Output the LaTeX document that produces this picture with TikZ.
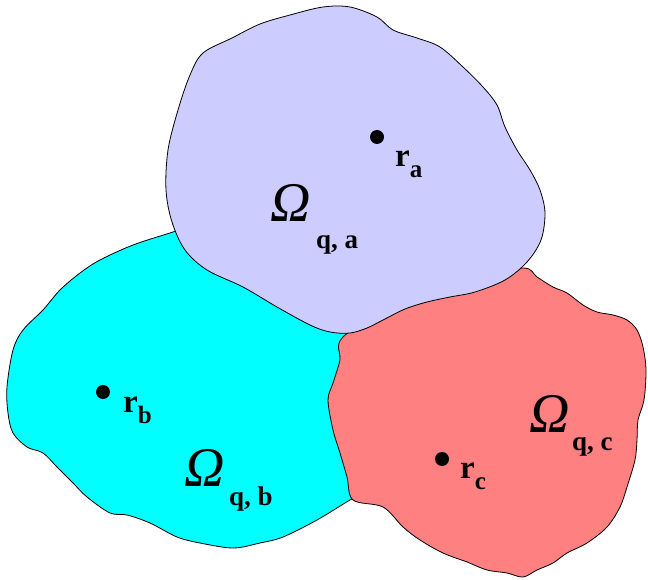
\documentclass[tikz,border=0pt]{standalone}
\usepackage{fontspec}
\setmainfont{Liberation Serif}
\definecolor{regA}{HTML}{CCCCFF}
\definecolor{regB}{HTML}{00FFFF}
\definecolor{regC}{HTML}{FF8080}
\newcommand{\omegaTxt}{\fontsize{56}{56}\selectfont\itshape Ω}
\newcommand{\subTxt}[1]{\fontsize{27}{27}\selectfont\bfseries #1}
\newcommand{\rTxt}[1]{{\fontsize{33}{33}\selectfont\bfseries r}\raisebox{-11pt}{\fontsize{25}{25}\selectfont\bfseries #1}}
\begin{document}
\begin{tikzpicture}[x=1pt,y=-1pt,
  blob/.style={draw=black, line width=0.8pt, line join=round},
  dotmark/.style={circle, fill=black, inner sep=0pt, minimum size=14pt},
  lbl/.style={anchor=base west, inner sep=0pt}]
\useasboundingbox (0,0) rectangle (648,580);
% cyan region (bottom)
\draw[blob, fill=regB] plot[smooth cycle, tension=0.55] coordinates {
(173,232) (133,245) (100,260) (80,273) (60,290) (43,310) (23,330) (13,350)
(7,387) (8,413) (13,433) (27,447) (43,453) (57,467) (73,483) (87,497)
(110,513) (127,515) (150,523) (177,537) (200,543) (233,548) (260,543)
(283,537) (317,520) (350,500) (370,489) (390,440) (385,360) (330,290)
(260,240) (200,223)};
% red region
\draw[blob, fill=regC] plot[smooth cycle, tension=0.55] coordinates {
(523,268) (537,277) (553,287) (567,293) (583,305) (597,312) (613,315)
(627,320) (637,330) (643,347) (646,370) (644,400) (638,420) (637,440)
(635,460) (627,487) (620,507) (607,527) (587,543) (567,553) (553,563)
(537,570) (523,577) (507,573) (487,570) (467,562) (443,553) (420,540)
(403,527) (383,507) (353,500) (347,477) (340,453) (333,430) (328,400)
(333,383) (340,360) (343,337) (400,300) (470,278)};
% lavender region (top)
\draw[blob, fill=regA] plot[smooth cycle, tension=0.55] coordinates {
(203,53) (232,38) (260,24) (290,15) (323,7) (350,7) (377,17)
(393,30) (417,38) (440,47) (463,67) (483,87) (497,105) (505,127)
(517,150) (530,170) (540,190) (545,213) (541,240) (527,262) (505,280)
(475,292) (450,297) (427,302) (405,309) (383,320)
(367,328) (350,333) (330,332) (310,325) (277,307) (243,287) (207,270)
(185,250) (172,222) (166,190) (168,150) (178,110) (190,75)};
% points
\node[dotmark] (pa) at (377,137) {};
\node[dotmark] (pb) at (103,392) {};
\node[dotmark] (pc) at (442,459) {};
\node[lbl] (ra) at (395,167) {\rTxt{a}};
\node[lbl] (rb) at (123,412) {\rTxt{b}};
\node[lbl] (rc) at (460,478) {\rTxt{c}};
% omega labels
\node[lbl] (oa) at (270,222) {\omegaTxt};
\node[lbl] (sa) at (316,249) {\subTxt{q, a}};
\node[lbl] (ob) at (184,486) {\omegaTxt};
\node[lbl] (sb) at (229,505) {\subTxt{q, b}};
\node[lbl] (oc) at (529,432) {\omegaTxt};
\node[lbl] (sc) at (572,450) {\subTxt{q, c}};
\end{tikzpicture}
\end{document}
